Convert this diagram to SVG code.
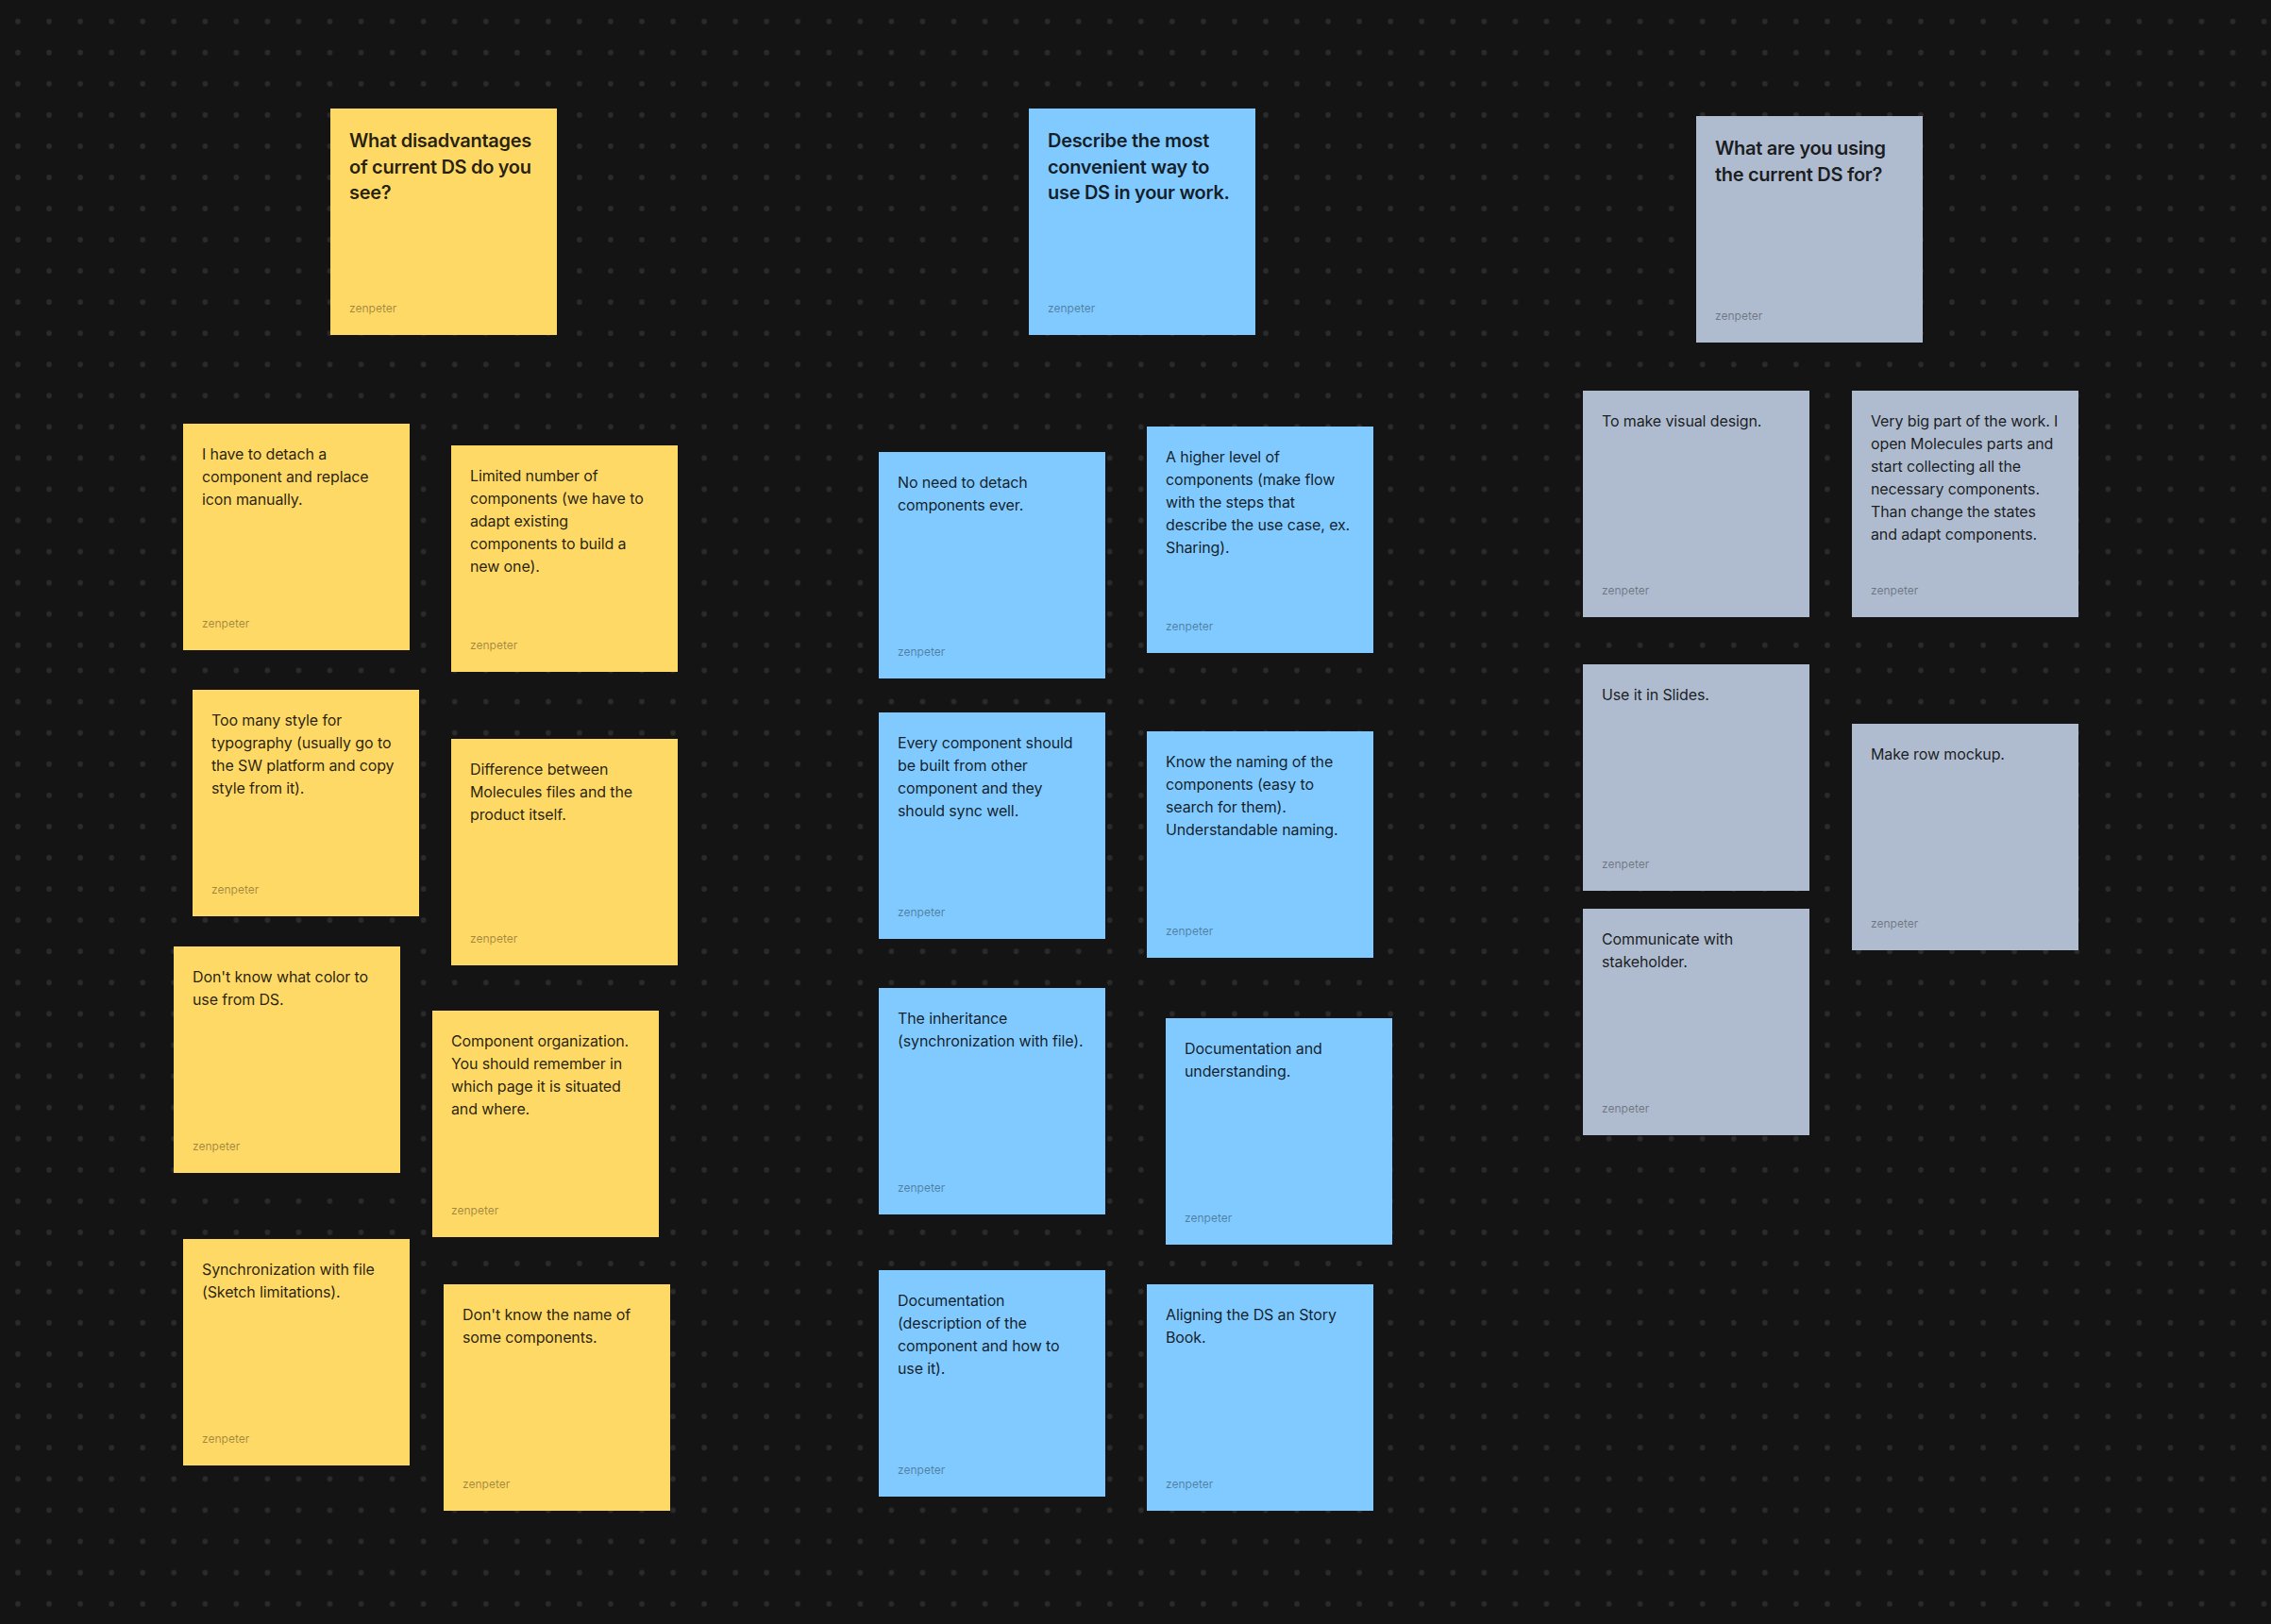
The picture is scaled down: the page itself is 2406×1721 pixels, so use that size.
<svg xmlns="http://www.w3.org/2000/svg" width="2406" height="1721" viewBox="0 0 2406 1721">
<style>
.note{stroke:none}
.y{fill:#FFD966}
.b{fill:#80CAFF}
.g{fill:#AFBCCF}
.title{font-family:Inter,"Noto Sans","Liberation Sans",sans-serif;font-size:20px;font-weight:600;letter-spacing:-0.3px;fill:#000;fill-opacity:.86}
.body{font-family:Inter,"Noto Sans","Liberation Sans",sans-serif;font-size:16px;font-weight:400;letter-spacing:-0.12px;fill:#000;fill-opacity:.86}
.author{font-family:Inter,"Noto Sans","Liberation Sans",sans-serif;font-size:12px;font-weight:400;fill:#000;fill-opacity:.38}
</style>
<defs>
<pattern id="dotsA" patternUnits="userSpaceOnUse" x="2.475" y="6.175" width="33.05" height="33.05"><circle cx="16.525" cy="16.525" r="2.8" fill="#2b2b2b"/></pattern>
<pattern id="dotsB" patternUnits="userSpaceOnUse" x="2.475" y="693.96" width="33.05" height="33.08"><circle cx="16.525" cy="16.54" r="2.8" fill="#2b2b2b"/></pattern>
<pattern id="dotsC" patternUnits="userSpaceOnUse" x="2.475" y="1352.15" width="33.05" height="33.1"><circle cx="16.525" cy="16.55" r="2.8" fill="#2b2b2b"/></pattern>
</defs>
<g id="background">
<rect x="0" y="0" width="2406" height="1721" fill="#141414"/>
<rect x="0" y="0" width="2406" height="697" fill="url(#dotsA)"/>
<rect x="0" y="697" width="2406" height="657" fill="url(#dotsB)"/>
<rect x="0" y="1354" width="2406" height="367" fill="url(#dotsC)"/>
</g>
<g id="connectors"/>

<!-- Yellow column -->
<g id="y-header" transform="translate(350,115)">
<rect class="note y" width="240" height="240"/>
<text class="title" x="20" y="41">What disadvantages<tspan x="20" y="68.5">of current DS do you</tspan><tspan x="20" y="96">see?</tspan></text>
<text class="author" x="20" y="216">zenpeter</text>
</g>
<g id="y-detach" transform="translate(194,449)">
<rect class="note y" width="240" height="240"/>
<text class="body" x="20" y="38">I have to detach a<tspan x="20" y="62">component and replace</tspan><tspan x="20" y="86">icon manually.</tspan></text>
<text class="author" x="20" y="216">zenpeter</text>
</g>
<g id="y-limited" transform="translate(478,472)">
<rect class="note y" width="240" height="240"/>
<text class="body" x="20" y="38">Limited number of<tspan x="20" y="62">components (we have to</tspan><tspan x="20" y="86">adapt existing</tspan><tspan x="20" y="110">components to build a</tspan><tspan x="20" y="134">new one).</tspan></text>
<text class="author" x="20" y="216">zenpeter</text>
</g>
<g id="y-toomany" transform="translate(204,731)">
<rect class="note y" width="240" height="240"/>
<text class="body" x="20" y="38">Too many style for<tspan x="20" y="62">typography (usually go to</tspan><tspan x="20" y="86">the SW platform and copy</tspan><tspan x="20" y="110">style from it).</tspan></text>
<text class="author" x="20" y="216">zenpeter</text>
</g>
<g id="y-difference" transform="translate(478,783)">
<rect class="note y" width="240" height="240"/>
<text class="body" x="20" y="38">Difference between<tspan x="20" y="62">Molecules files and the</tspan><tspan x="20" y="86">product itself.</tspan></text>
<text class="author" x="20" y="216">zenpeter</text>
</g>
<g id="y-color" transform="translate(184,1003)">
<rect class="note y" width="240" height="240"/>
<text class="body" x="20" y="38">Don't know what color to<tspan x="20" y="62">use from DS.</tspan></text>
<text class="author" x="20" y="216">zenpeter</text>
</g>
<g id="y-organization" transform="translate(458,1071)">
<rect class="note y" width="240" height="240"/>
<text class="body" x="20" y="38">Component organization.<tspan x="20" y="62">You should remember in</tspan><tspan x="20" y="86">which page it is situated</tspan><tspan x="20" y="110">and where.</tspan></text>
<text class="author" x="20" y="216">zenpeter</text>
</g>
<g id="y-sync" transform="translate(194,1313)">
<rect class="note y" width="240" height="240"/>
<text class="body" x="20" y="38">Synchronization with file<tspan x="20" y="62">(Sketch limitations).</tspan></text>
<text class="author" x="20" y="216">zenpeter</text>
</g>
<g id="y-name" transform="translate(470,1361)">
<rect class="note y" width="240" height="240"/>
<text class="body" x="20" y="38">Don't know the name of<tspan x="20" y="62">some components.</tspan></text>
<text class="author" x="20" y="216">zenpeter</text>
</g>

<!-- Blue column -->
<g id="b-header" transform="translate(1090,115)">
<rect class="note b" width="240" height="240"/>
<text class="title" x="20" y="41">Describe the most<tspan x="20" y="68.5">convenient way to</tspan><tspan x="20" y="96">use DS in your work.</tspan></text>
<text class="author" x="20" y="216">zenpeter</text>
</g>
<g id="b-nodetach" transform="translate(931,479)">
<rect class="note b" width="240" height="240"/>
<text class="body" x="20" y="38">No need to detach<tspan x="20" y="62">components ever.</tspan></text>
<text class="author" x="20" y="216">zenpeter</text>
</g>
<g id="b-higher" transform="translate(1215,452)">
<rect class="note b" width="240" height="240"/>
<text class="body" x="20" y="38">A higher level of<tspan x="20" y="62">components (make flow</tspan><tspan x="20" y="86">with the steps that</tspan><tspan x="20" y="110">describe the use case, ex.</tspan><tspan x="20" y="134">Sharing).</tspan></text>
<text class="author" x="20" y="216">zenpeter</text>
</g>
<g id="b-every" transform="translate(931,755)">
<rect class="note b" width="240" height="240"/>
<text class="body" x="20" y="38">Every component should<tspan x="20" y="62">be built from other</tspan><tspan x="20" y="86">component and they</tspan><tspan x="20" y="110">should sync well.</tspan></text>
<text class="author" x="20" y="216">zenpeter</text>
</g>
<g id="b-naming" transform="translate(1215,775)">
<rect class="note b" width="240" height="240"/>
<text class="body" x="20" y="38">Know the naming of the<tspan x="20" y="62">components (easy to</tspan><tspan x="20" y="86">search for them).</tspan><tspan x="20" y="110">Understandable naming.</tspan></text>
<text class="author" x="20" y="216">zenpeter</text>
</g>
<g id="b-inheritance" transform="translate(931,1047)">
<rect class="note b" width="240" height="240"/>
<text class="body" x="20" y="38">The inheritance<tspan x="20" y="62">(synchronization with file).</tspan></text>
<text class="author" x="20" y="216">zenpeter</text>
</g>
<g id="b-docunderstanding" transform="translate(1235,1079)">
<rect class="note b" width="240" height="240"/>
<text class="body" x="20" y="38">Documentation and<tspan x="20" y="62">understanding.</tspan></text>
<text class="author" x="20" y="216">zenpeter</text>
</g>
<g id="b-documentation" transform="translate(931,1346)">
<rect class="note b" width="240" height="240"/>
<text class="body" x="20" y="38">Documentation<tspan x="20" y="62">(description of the</tspan><tspan x="20" y="86">component and how to</tspan><tspan x="20" y="110">use it).</tspan></text>
<text class="author" x="20" y="216">zenpeter</text>
</g>
<g id="b-storybook" transform="translate(1215,1361)">
<rect class="note b" width="240" height="240"/>
<text class="body" x="20" y="38">Aligning the DS an Story<tspan x="20" y="62">Book.</tspan></text>
<text class="author" x="20" y="216">zenpeter</text>
</g>

<!-- Gray column -->
<g id="g-header" transform="translate(1797,123)">
<rect class="note g" width="240" height="240"/>
<text class="title" x="20" y="41">What are you using<tspan x="20" y="68.5">the current DS for?</tspan></text>
<text class="author" x="20" y="216">zenpeter</text>
</g>
<g id="g-visual" transform="translate(1677,414)">
<rect class="note g" width="240" height="240"/>
<text class="body" x="20" y="38">To make visual design.</text>
<text class="author" x="20" y="216">zenpeter</text>
</g>
<g id="g-bigpart" transform="translate(1962,414)">
<rect class="note g" width="240" height="240"/>
<text class="body" x="20" y="38">Very big part of the work. I<tspan x="20" y="62">open Molecules parts and</tspan><tspan x="20" y="86">start collecting all the</tspan><tspan x="20" y="110">necessary components.</tspan><tspan x="20" y="134">Than change the states</tspan><tspan x="20" y="158">and adapt components.</tspan></text>
<text class="author" x="20" y="216">zenpeter</text>
</g>
<g id="g-slides" transform="translate(1677,704)">
<rect class="note g" width="240" height="240"/>
<text class="body" x="20" y="38">Use it in Slides.</text>
<text class="author" x="20" y="216">zenpeter</text>
</g>
<g id="g-mockup" transform="translate(1962,767)">
<rect class="note g" width="240" height="240"/>
<text class="body" x="20" y="38">Make row mockup.</text>
<text class="author" x="20" y="216">zenpeter</text>
</g>
<g id="g-communicate" transform="translate(1677,963)">
<rect class="note g" width="240" height="240"/>
<text class="body" x="20" y="38">Communicate with<tspan x="20" y="62">stakeholder.</tspan></text>
<text class="author" x="20" y="216">zenpeter</text>
</g>
</svg>
